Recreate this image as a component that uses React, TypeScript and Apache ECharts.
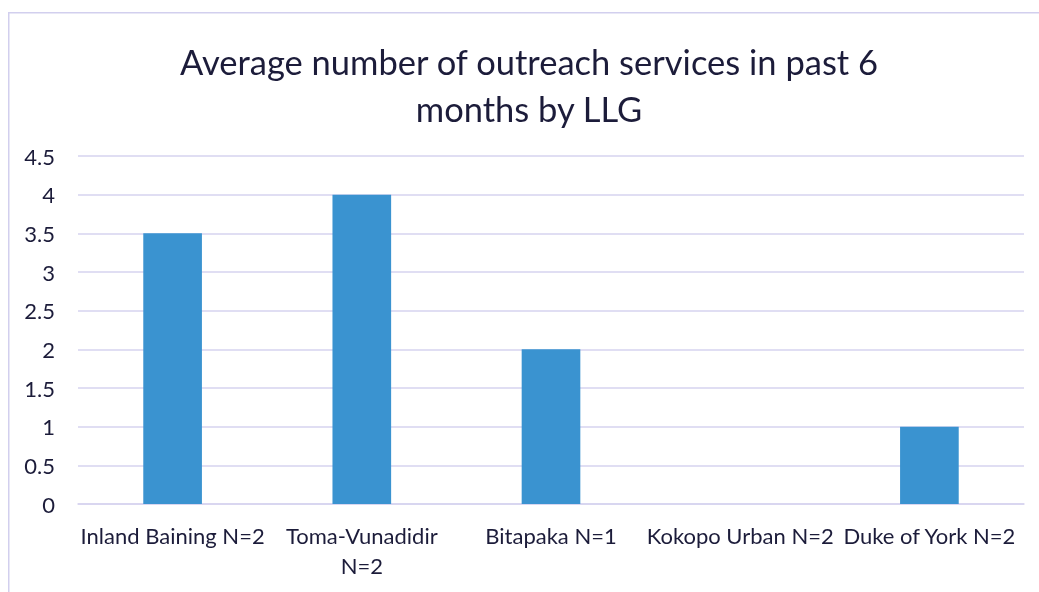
import React, { useEffect, useRef } from "react";
import * as echarts from "echarts";

const titleText = "Average number of outreach services in past 6\nmonths by LLG";
const categories = [
  "Inland Baining N=2",
  "Toma-Vunadidir N=2",
  "Bitapaka N=1",
  "Kokopo Urban N=2",
  "Duke of York N=2",
];
const values = [3.5, 4, 2, 0, 1];
const yMin = 0;
const yMax = 4.5;
const yInterval = 0.5;

const FONT = "Lato";
const TEXT = "#1c1c3a";
const GRID = "#d6d3ef";

export default function App() {
  const ref = useRef<HTMLDivElement>(null);
  useEffect(() => {
    if (!ref.current) return;
    const chart = echarts.init(ref.current, undefined, { renderer: "svg" });
    chart.setOption({
      animation: false,
      title: {
        text: titleText,
        left: 516,
        textAlign: "center",
        top: 25,
        textStyle: {
          fontFamily: FONT,
          fontSize: 34.5,
          fontWeight: "normal",
          color: TEXT,
          lineHeight: 47,
        },
      },
      graphic: [
        {
          type: "polyline",
          shape: { points: [[0.75, 584], [0.75, 4.75], [1031, 4.75]] },
          style: { fill: "none", stroke: "#d2cfee", lineWidth: 1.5 },
          silent: true,
        },
      ],
      grid: { left: 70, right: 15, top: 148, bottom: 88, containLabel: false },
      xAxis: {
        type: "category",
        data: categories,
        axisLine: { show: true, lineStyle: { color: GRID, width: 1.5 } },
        axisTick: { show: false },
        axisLabel: {
          interval: 0,
          margin: 16,
          fontFamily: FONT,
          fontSize: 22,
          color: TEXT,
          lineHeight: 30,
          formatter: (v: string) => v.replace("Toma-Vunadidir ", "Toma-Vunadidir\n"),
        },
      },
      yAxis: {
        type: "value",
        min: yMin,
        max: yMax,
        interval: yInterval,
        axisLine: { show: false },
        axisTick: { show: false },
        splitLine: { lineStyle: { color: GRID, width: 1.5 } },
        axisLabel: {
          margin: 23,
          fontFamily: FONT,
          fontSize: 22,
          color: TEXT,
        },
      },
      series: [
        {
          type: "bar",
          data: values,
          barWidth: "31%",
          itemStyle: { color: "#3a93d0" },
        },
      ],
    });
    return () => chart.dispose();
  }, []);
  return (
    <div
      ref={ref}
      style={{ position: "fixed", left: 8, top: 8, width: 1031, height: 584 }}
    />
  );
}
